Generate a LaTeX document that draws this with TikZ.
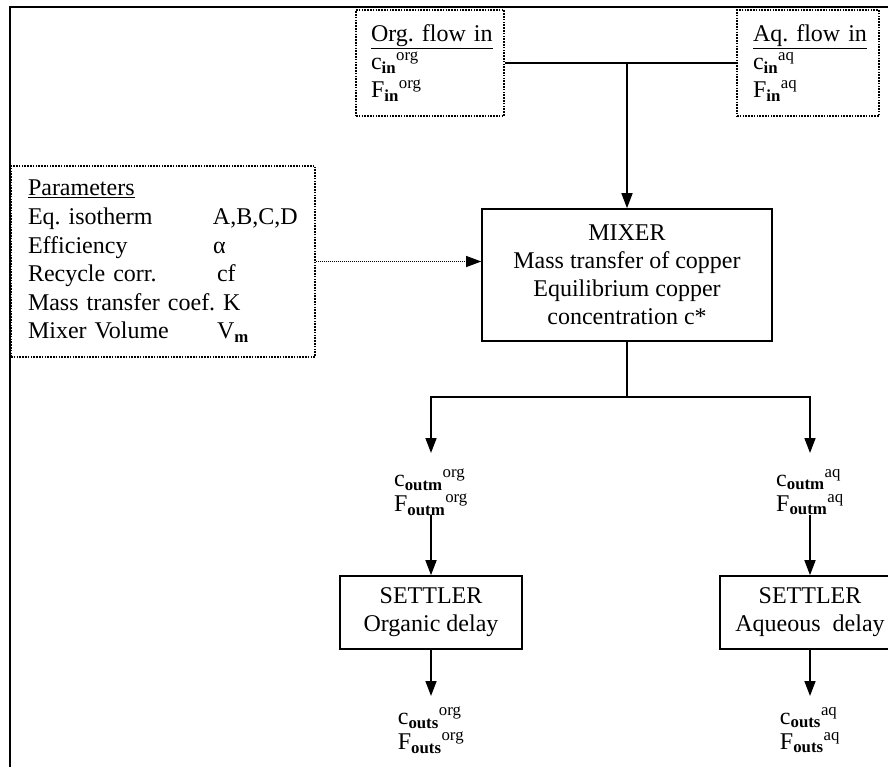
\documentclass[tikz,border=0pt]{standalone}
\usepackage{fontspec}
\setmainfont{Liberation Serif}
\usetikzlibrary{arrows.meta}
\newcommand\subsup[2]{\textsubscript{\textbf{#1}}\textsuperscript{#2}}
\setlength{\lineskiplimit}{-100pt}
\frenchspacing
\begin{document}
\frenchspacing
\begin{tikzpicture}[x=1pt,y=-1pt,
  every node/.style={font=\fontsize{24}{28}\selectfont, inner sep=0pt},
  solidbox/.style={draw, line width=1.6pt, align=center},
  dotbox/.style={draw, line width=1.6pt, dash pattern=on 1.6pt off 1.2pt, align=left},
  conn/.style={line width=1.6pt},
  arr/.style={conn, -{Triangle[length=15pt,width=11pt]}},
  dotarr/.style={line width=1pt, dash pattern=on 1pt off 1pt, -{Triangle[length=15pt,width=11pt]}},
  lbl/.style={align=left, font=\fontsize{24}{25}\selectfont}
]
\useasboundingbox (0,0) rectangle (888,767);
% outer frame
\draw[line width=2.6pt] (888,7) -- (10,7) -- (10,767);

% input boxes
\node[dotbox, minimum width=148pt, minimum height=106pt, text width=118pt, inner xsep=15pt] (org) at (430,63)
  {\underline{Org. flow in}\\ c\subsup{in}{org}\\ F\subsup{in}{org}};
\node[dotbox, minimum width=142pt, minimum height=106pt, text width=110pt, inner xsep=16pt] (aq) at (808,63)
  {\underline{Aq. flow in}\\ c\subsup{in}{aq}\\ F\subsup{in}{aq}};

% parameters
\node[dotbox, minimum width=304pt, minimum height=191pt, text width=270pt, inner xsep=17pt,
      font=\fontsize{24}{28.6}\selectfont] (par) at (163,261.5)
  {\underline{Parameters}\\
   \makebox[185pt][l]{Eq. isotherm}A,B,C,D\\
   \makebox[185pt][l]{Efficiency}α\\
   \makebox[189pt][l]{Recycle corr.}cf\\
   Mass transfer coef. K\\
   \makebox[189pt][l]{Mixer Volume}V\textsubscript{\textbf{m}}};

% mixer
\node[solidbox, minimum width=290pt, minimum height=132pt] (mix) at (627,275)
  {MIXER\\ Mass transfer of copper\\ Equilibrium copper\\ concentration c*};

% settlers
\node[solidbox, minimum width=182pt, minimum height=73pt] (so) at (431,612.5)
  {SETTLER\\ Organic delay};
\node[solidbox, minimum width=180pt, minimum height=73pt] (sa) at (810,612.5)
  {SETTLER\\ Aqueous\ \ delay};

% mixer outputs
\node[lbl] (lo) at (431,492) {c\subsup{outm}{org}\\ F\subsup{outm}{org}};
\node[lbl] (la) at (810,492) {c\subsup{outm}{aq}\\ F\subsup{outm}{aq}};

% settler outputs
\node[lbl] (lso) at (431,730) {c\subsup{outs}{org}\\ F\subsup{outs}{org}};
\node[lbl] (lsa) at (810,730) {c\subsup{outs}{aq}\\ F\subsup{outs}{aq}};

% coordinates
\coordinate (jt) at (mix.north |- org.east);
\coordinate (jb) at (627,397);
\coordinate (tL) at (431,453);
\coordinate (tR) at (810,453);
\coordinate (bL) at (431,696);
\coordinate (bR) at (810,696);

% connectors
\draw[conn] (org.east) -- (aq.west);
\draw[arr] (jt) -- (mix.north);
\draw[dotarr] (par.east) -- (par.east -| mix.west);
\draw[conn] (mix.south) -- (jb);
\draw[arr] (jb) -| (tL);
\draw[arr] (jb) -| (tR);
\draw[arr] (so.north |- lo.south) -- (so.north);
\draw[arr] (sa.north |- la.south) -- (sa.north);
\draw[arr] (so.south) -- (bL);
\draw[arr] (sa.south) -- (bR);
\end{tikzpicture}
\end{document}
